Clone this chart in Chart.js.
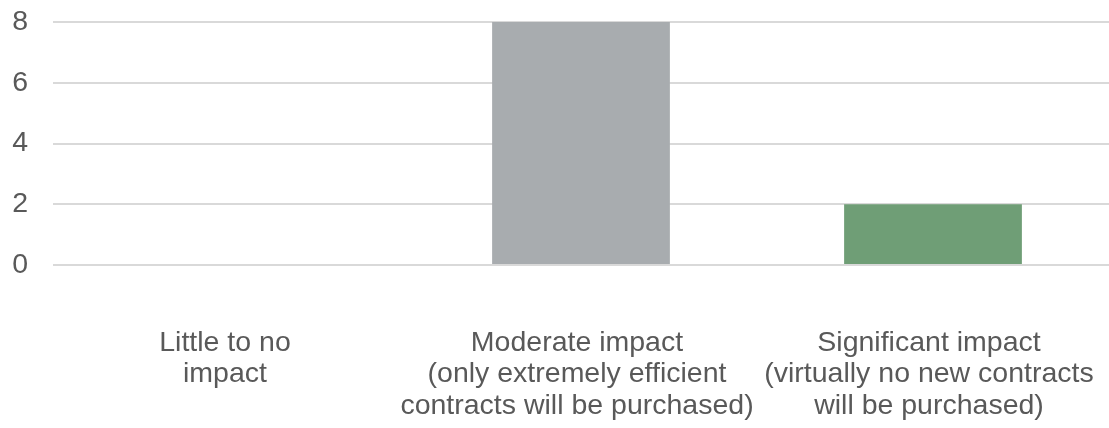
<!DOCTYPE html>
<html>
<head>
<meta charset="utf-8">
<script src="https://cdn.jsdelivr.net/npm/chart.js@4/dist/chart.umd.min.js"></script>
<style>
  html, body { margin: 0; padding: 0; background: #fff; overflow: hidden; }
  #wrap { width: 1109px; height: 428px; position: relative; }
</style>
</head>
<body>
<div id="wrap"><canvas id="c"></canvas></div>
<script>
// Survey responses: expected impact on new contract purchases
const categories = [
  ["Little to no", "impact"],
  ["Moderate impact", "(only extremely efficient", "contracts will be purchased)"],
  ["Significant impact", "(virtually no new contracts", "will be purchased)"]
];
const responses = [0, 8, 2];
const barColors = ["#5b7fa8", "#a8acaf", "#6f9e76"];
const yTicks = [0, 2, 4, 6, 8];

const textColor = "#595959";
const fontFamily = "'Liberation Sans', Arial, sans-serif";
const labelFont = { family: fontFamily, size: 28.5, lineHeight: 1.11 };

new Chart(document.getElementById("c"), {
  type: "bar",
  data: {
    labels: categories,
    datasets: [{
      data: responses,
      backgroundColor: barColors,
      borderWidth: 0,
      barPercentage: 0.505,
      categoryPercentage: 1.0
    }]
  },
  options: {
    responsive: true,
    maintainAspectRatio: false,
    animation: false,
    layout: { padding: 0 },
    plugins: {
      legend: { display: false },
      tooltip: { enabled: false }
    },
    scales: {
      x: {
        grid: { display: false, drawTicks: false },
        border: { display: false },
        ticks: {
          color: textColor,
          font: labelFont,
          padding: 62,
          maxRotation: 0,
          autoSkip: false,
          labelOffset: -4
        },
        afterFit: (scale) => {
          scale.height = 163;
          scale.paddingLeft = 0;
          scale.paddingRight = 0;
        }
      },
      y: {
        min: yTicks[0],
        max: yTicks[yTicks.length - 1],
        afterBuildTicks: (axis) => { axis.ticks = yTicks.map(v => ({ value: v })); },
        grid: { color: "#d9d9d9", lineWidth: 2, drawTicks: false },
        border: { display: false },
        ticks: {
          color: textColor,
          font: labelFont,
          padding: 25
        },
        afterFit: (scale) => {
          scale.width = 53;
          scale.paddingTop = 22;
          scale.paddingBottom = 0;
        }
      }
    }
  }
});
</script>
</body>
</html>
